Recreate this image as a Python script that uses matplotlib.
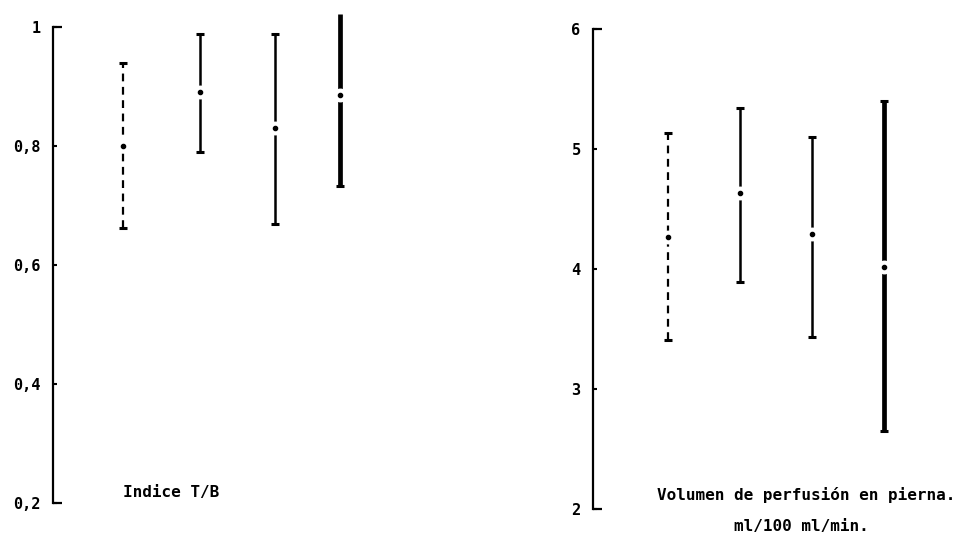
import numpy as np
import matplotlib.pyplot as plt

# Indice T/B: media y rango por grupo
tb_mean = [0.80, 0.89, 0.83, 0.886]
tb_low = [0.662, 0.79, 0.669, 0.733]
tb_high = [0.94, 0.988, 0.988, 1.022]
tb_ticks = [0.2, 0.4, 0.6, 0.8, 1.0]
tb_ticklabels = ["0,2", "0,4", "0,6", "0,8", "1"]

# Volumen de perfusion (ml/100 ml/min)
vol_mean = [4.27, 4.63, 4.29, 4.02]
vol_low = [3.41, 3.89, 3.43, 2.65]
vol_high = [5.13, 5.34, 5.10, 5.40]
vol_ticks = [2, 3, 4, 5, 6]
vol_ticklabels = ["2", "3", "4", "5", "6"]

# one style per group: line style, width
bar_styles = [("--", 1.6), ("-", 1.8), ("-", 1.8), ("-", 3.4)]

FONT = dict(family="DejaVu Sans Mono", fontweight="bold")


def draw_panel(ax, xpos, mean, low, high, ticks, ticklabels, top_caps):
    for i, x in enumerate(xpos):
        ls, lw = bar_styles[i]
        line = ax.plot([x, x], [low[i], high[i]], color="black", lw=lw,
                       clip_on=False, solid_capstyle="butt")[0]
        if ls == "--":
            line.set_dashes([3.5, 2.5])
        # caps
        ax.plot([x], [low[i]], marker="_", ms=6, mew=2.2, color="black", clip_on=False)
        if top_caps[i]:
            ax.plot([x], [high[i]], marker="_", ms=6, mew=2.2, color="black", clip_on=False)
        # mean: white gap with a small dot
        ax.plot([x], [mean[i]], marker="o", ms=9, mfc="white", mec="white",
                clip_on=False, zorder=3)
        ax.plot([x], [mean[i]], marker="o", ms=3, color="black",
                clip_on=False, zorder=4)

    ax.set_xlim(0, 5.5)
    ax.set_ylim(ticks[0], ticks[-1])
    for s in ["top", "right", "bottom"]:
        ax.spines[s].set_visible(False)
    ax.spines["left"].set_linewidth(1.6)
    ax.set_xticks([])
    ax.set_yticks(ticks)
    ax.set_yticklabels(ticklabels, **FONT)
    ax.tick_params(axis="y", direction="in", length=3, width=1.5, pad=9, labelsize=11)
    # bracket ends of the axis
    for yy in (0, 1):
        ax.plot([0, 0.022], [yy, yy], transform=ax.transAxes, color="black",
                lw=1.6, clip_on=False, solid_capstyle="butt")


fig = plt.figure(figsize=(9.63, 5.36), dpi=100)

ax1 = fig.add_axes([53 / 963, 33 / 536, 412 / 963, 476 / 536])
draw_panel(ax1, [0.93, 1.96, 2.96, 3.83], tb_mean, tb_low, tb_high,
           tb_ticks, tb_ticklabels, [True, True, True, False])

ax2 = fig.add_axes([593 / 963, 27 / 536, 412 / 963, 480 / 536])
draw_panel(ax2, [1.0, 1.96, 2.93, 3.89], vol_mean, vol_low, vol_high,
           vol_ticks, vol_ticklabels, [True, True, True, True])

fig.text(123 / 963, 1 - 492 / 536, "Indice T/B", ha="left", va="center",
         fontsize=11.5, **FONT)
fig.text(806 / 963, 1 - 495 / 536, "Volumen de perfusión en pierna.", ha="center",
         va="center", fontsize=11.5, **FONT)
fig.text(801 / 963, 1 - 527 / 536, "ml/100 ml/min.", ha="center", va="center",
         fontsize=11.5, **FONT)

fig.savefig("out.png", dpi=100)
